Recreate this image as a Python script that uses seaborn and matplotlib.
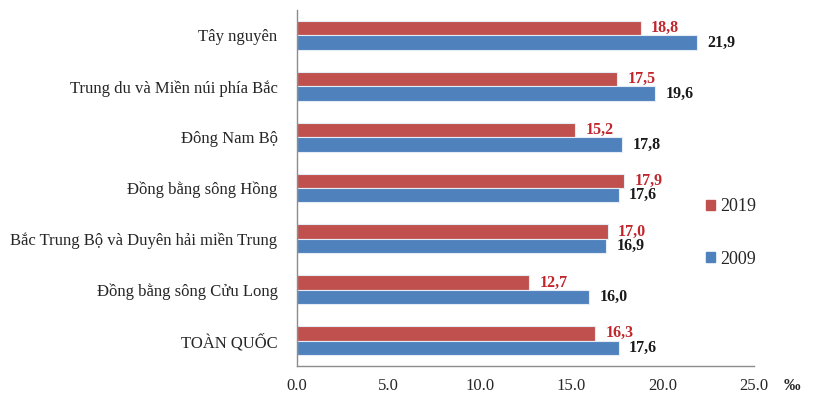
import numpy as np
import pandas as pd
import matplotlib
matplotlib.use("Agg")
import matplotlib.pyplot as plt
import seaborn as sns

regions = [
    "Tây nguyên",
    "Trung du và Miền núi phía Bắc",
    "Đông Nam Bộ",
    "Đồng bằng sông Hồng",
    "Bắc Trung Bộ và Duyên hải miền Trung",
    "Đồng bằng sông Cửu Long",
    "TOÀN QUỐC",
]
values_2019 = [18.8, 17.5, 15.2, 17.9, 17.0, 12.7, 16.3]
values_2009 = [21.9, 19.6, 17.8, 17.6, 16.9, 16.0, 17.6]
years = ["2019", "2009"]
x_ticks = [0, 5, 10, 15, 20, 25]

df = pd.DataFrame({
    "region": regions * 2,
    "year": [years[0]] * len(regions) + [years[1]] * len(regions),
    "value": values_2019 + values_2009,
})

sns.set_theme(style="white")
plt.rcParams["font.family"] = ["Liberation Serif", "DejaVu Serif"]

fig = plt.figure(figsize=(8.15, 3.97), dpi=100)
ax = fig.add_axes([297 / 815, 1 - 366 / 397, 457 / 815, 356 / 397])

palette = {"2019": "#C0504D", "2009": "#4F81BD"}
sns.barplot(data=df, y="region", x="value", hue="year", hue_order=years,
            order=regions, palette=palette, width=0.57, orient="h",
            edgecolor="#E4ECF5", linewidth=0.8, saturation=1, ax=ax)

label_colors = ["#C0272D", "#1A1A1A"]
for cont, col in zip(ax.containers, label_colors):
    ax.bar_label(cont, labels=[f"{v:.1f}".replace(".", ",") for v in cont.datavalues],
                 padding=7.5, color=col, fontsize=11.5, fontweight="bold")

ax.set_xlim(0, 25)
ax.set_ylim(len(regions) - 0.5, -0.5)
ax.set_xticks(x_ticks)
ax.set_xticklabels([f"{t:.1f}" for t in x_ticks], fontsize=12)
ax.set_xlabel("")
ax.set_ylabel("")

# ticks on category boundaries, labels at centres
ax.set_yticks(np.arange(len(regions)))
ax.set_yticklabels(regions, fontsize=12)
ax.set_yticks(np.arange(-0.5, len(regions)), minor=True)
ax.tick_params(axis="y", which="major", length=0, pad=14)
ax.tick_params(axis="y", which="minor", length=5, width=1, color="#8C8C8C", direction="out")
ax.tick_params(axis="x", which="major", length=5, width=1, color="#8C8C8C",
               direction="out", pad=4)

for side in ["top", "right"]:
    ax.spines[side].set_visible(False)
for side in ["left", "bottom"]:
    ax.spines[side].set_color("#8C8C8C")
    ax.spines[side].set_linewidth(1)

ax.text(1.083, -0.035, "‰", transform=ax.transAxes, fontsize=12,
        fontweight="bold", ha="center", va="top")

ax.legend_.remove()
handles = [plt.Rectangle((0, 0), 1, 1, color=palette[y]) for y in years]
fig.legend(handles, years, loc="center left", bbox_to_anchor=(690 / 815, 1 - 233 / 397),
           frameon=False, fontsize=13, handlelength=0.5, handleheight=0.5,
           handletextpad=0.3, labelspacing=1.95)

fig.savefig("out.png", dpi=100)
